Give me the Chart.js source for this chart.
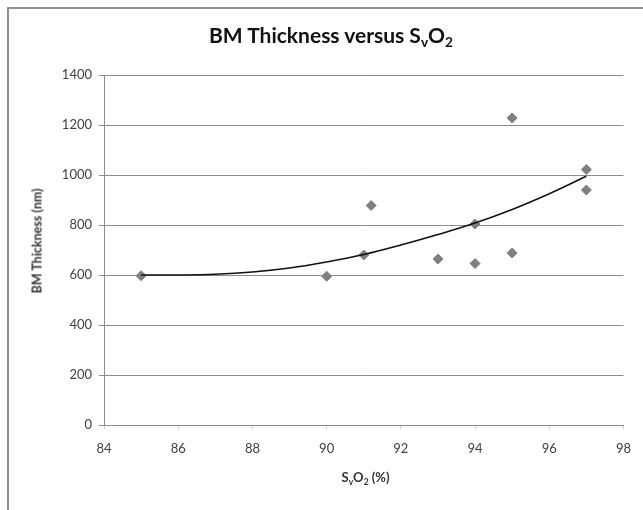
<!DOCTYPE html>
<html>
<head>
<meta charset="utf-8">
<script src="https://cdn.jsdelivr.net/npm/chart.js@4"></script>
<style>
  html, body { margin: 0; padding: 0; background: #fff; }
  #wrap { position: relative; width: 643px; height: 510px; overflow: hidden; font-family: Lato, sans-serif; }
  #frame { position: absolute; left: 7px; top: 7px; width: 700px; height: 600px;
           border-left: 2px solid #8f8f8f; border-top: 2px solid #8f8f8f; }
  canvas { position: absolute; left: 0; top: 0; }
  .title { position: absolute; left: 0; width: 662px; top: 22px; text-align: center;
           font-weight: bold; font-size: 21px; color: #111; }
  .xtitle { position: absolute; left: 104px; width: 523px; top: 469px; text-align: center;
            font-weight: bold; font-size: 13px; color: #333; }
  .ytitle { position: absolute; left: 37px; top: 241px; transform: translate(-50%, -50%) rotate(-90deg);
            white-space: nowrap; font-weight: bold; font-size: 12.5px; color: #333; }
  sub { font-size: 65%; vertical-align: -0.3em; line-height: 0; }
</style>
</head>
<body>
<div id="wrap">
  <div id="frame"></div>
  <canvas id="chart" width="643" height="510"></canvas>
  <div class="title">BM Thickness versus S<sub>v</sub>O<sub>2</sub></div>
  <div class="ytitle">BM Thickness (nm)</div>
  <div class="xtitle">S<sub>v</sub>O<sub>2</sub> (%)</div>
</div>
<script>
// measured points, SvO2 (%) vs basement membrane thickness (nm)
const svo2 = [85, 90, 91, 91.2, 93, 94, 94, 95, 95, 97, 97];
const thickness = [597, 595, 680, 878, 664, 646, 804, 688, 1228, 1022, 940];

// trend curve
const trendX = [85, 86, 87, 88, 89, 90, 91, 92, 93, 94, 95, 96, 97];
const trendY = [600, 600, 603, 612, 628, 652, 682, 720, 762, 808, 862, 925, 995];

const xTicks = [84, 86, 88, 90, 92, 94, 96, 98];
const yTicks = [0, 200, 400, 600, 800, 1000, 1200, 1400];

const gridGray = '#8c8c8c';
const tickFont = { family: 'Lato', size: 13 };

new Chart(document.getElementById('chart'), {
  type: 'scatter',
  data: {
    datasets: [
      {
        label: 'BM Thickness',
        data: svo2.map((x, i) => ({ x: x, y: thickness[i] })),
        pointStyle: 'rectRot',
        pointRadius: 5,
        backgroundColor: '#7f7f7f',
        borderColor: '#7f7f7f',
        borderWidth: 1,
        order: 2,
      },
      {
        type: 'line',
        label: 'Trend',
        data: trendX.map((x, i) => ({ x: x, y: trendY[i] })),
        borderColor: '#111',
        borderWidth: 1.5,
        pointRadius: 0,
        tension: 0.4,
        fill: false,
        order: 1,
      },
    ],
  },
  options: {
    responsive: false,
    animation: false,
    layout: { padding: { top: 75, right: 16, left: 0, bottom: 0 } },
    plugins: { legend: { display: false }, tooltip: { enabled: false } },
    scales: {
      x: {
        type: 'linear',
        min: xTicks[0],
        max: xTicks[xTicks.length - 1],
        afterBuildTicks: (s) => { s.ticks = xTicks.map((v) => ({ value: v })); },
        afterFit: (s) => { s.height = 85; },
        grid: { drawOnChartArea: false, tickLength: 4, color: '#d0d0d0' },
        border: { color: gridGray },
        ticks: { color: '#404040', font: tickFont, padding: 12, maxRotation: 0,
                 callback: (v) => String(v) },
      },
      y: {
        min: yTicks[0],
        max: yTicks[yTicks.length - 1],
        afterBuildTicks: (s) => { s.ticks = yTicks.map((v) => ({ value: v })); },
        afterFit: (s) => { s.width = 104; },
        grid: { color: gridGray, tickLength: 5, lineWidth: 1 },
        border: { color: gridGray },
        ticks: { color: '#404040', font: tickFont, padding: 7,
                 callback: (v) => String(v) },
      },
    },
  },
});
</script>
</body>
</html>
